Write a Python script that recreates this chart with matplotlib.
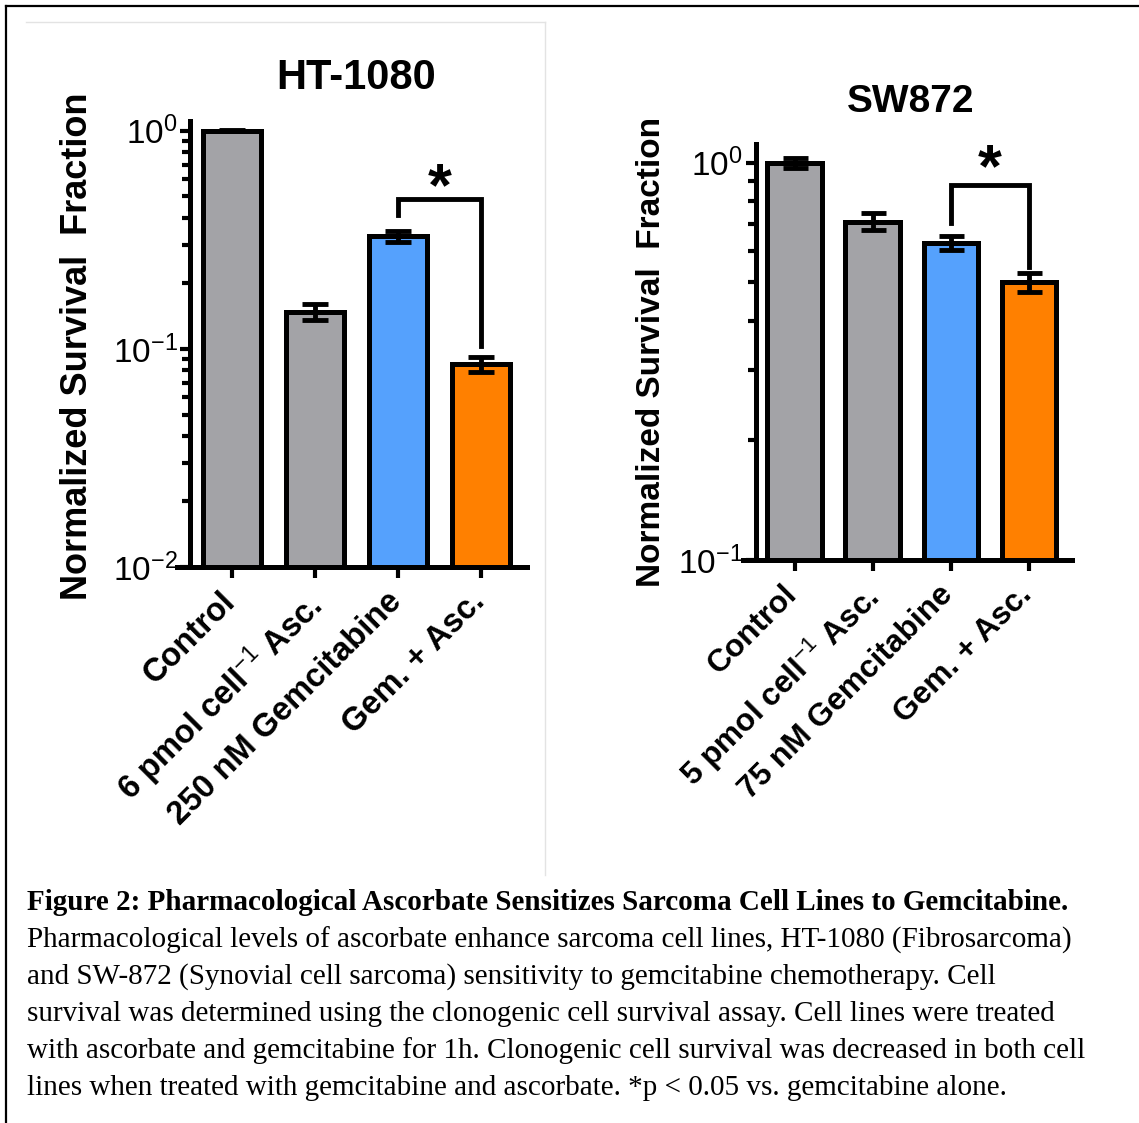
import matplotlib
matplotlib.use("Agg")
import matplotlib.pyplot as plt
from matplotlib.lines import Line2D
from matplotlib.ticker import NullFormatter
from matplotlib.transforms import ScaledTranslation

plt.rcParams['font.family'] = ['Liberation Sans', 'DejaVu Sans']
plt.rcParams['mathtext.fontset'] = 'custom'
plt.rcParams['mathtext.rm'] = 'Liberation Sans'
plt.rcParams['mathtext.it'] = 'Liberation Sans:italic'
plt.rcParams['mathtext.bf'] = 'Liberation Sans:bold'

# ---- data ----
ht_labels = ["Control", "6 pmol cell$^{-1}$ Asc.", "250 nM Gemcitabine", "Gem. + Asc."]
ht_values = [1.0, 0.148, 0.328, 0.085]
ht_errors = [0.008, 0.013, 0.019, 0.007]
ht_bracket = (0.41, 0.486, 0.103)   # left leg start, top, right leg end
ht_star_y = 0.535

sw_labels = ["Control", "5 pmol cell$^{-1}$ Asc.", "75 nM Gemcitabine", "Gem. + Asc."]
sw_values = [1.0, 0.71, 0.628, 0.50]
sw_errors = [0.028, 0.035, 0.024, 0.028]
sw_bracket = (0.703, 0.879, 0.547)
sw_star_y = 0.955

bar_colors = ["#a3a3a7", "#a3a3a7", "#55a1fd", "#ff8000"]

caption_title = "Figure 2: Pharmacological Ascorbate Sensitizes Sarcoma Cell Lines to Gemcitabine."
caption_lines = [
    "Pharmacological levels of ascorbate enhance sarcoma cell lines, HT-1080 (Fibrosarcoma)",
    "and SW-872 (Synovial cell sarcoma) sensitivity to gemcitabine chemotherapy. Cell",
    "survival was determined using the clonogenic cell survival assay. Cell lines were treated",
    "with ascorbate and gemcitabine for 1h. Clonogenic cell survival was decreased in both cell",
    "lines when treated with gemcitabine and ascorbate. *p < 0.05 vs. gemcitabine alone.",
]

W, H = 1139, 1123
fig = plt.figure(figsize=(W / 100, H / 100), dpi=100)


def px(x0, y_top, x1, y_bot):
    # pixel box -> figure fraction rect
    return [x0 / W, 1 - y_bot / H, (x1 - x0) / W, (y_bot - y_top) / H]


def panel(rect, labels, values, errors, ylim, bracket, star_y, xlab_size, capsize):
    ax = fig.add_axes(rect)
    x = list(range(len(values)))
    ax.bar(x, values, width=0.7, color=bar_colors, edgecolor='black', linewidth=3.6, zorder=2)
    ax.errorbar(x, values, yerr=errors, fmt='none', ecolor='black', elinewidth=3.5,
                capsize=capsize, capthick=3.5, zorder=3)
    ax.set_yscale('log')
    ax.set_ylim(*ylim)
    ax.set_xlim(-0.66, 3.55)
    ax.yaxis.set_minor_formatter(NullFormatter())
    for s in ('top', 'right'):
        ax.spines[s].set_visible(False)
    ax.spines['left'].set_position(('data', -0.5))
    ax.spines['left'].set_linewidth(3.6)
    ax.spines['bottom'].set_linewidth(3.6)
    ax.tick_params(axis='y', which='major', length=7, width=3, labelsize=24, pad=2)
    ax.tick_params(axis='y', which='minor', length=6, width=3)
    ax.tick_params(axis='x', length=8, width=3, pad=4)
    ax.set_xticks(x)
    ax.set_xticklabels(labels, rotation=45, ha='right', rotation_mode='anchor',
                       fontsize=xlab_size, fontweight='bold')
    shift = ScaledTranslation(-9 / 72, -2 / 72, fig.dpi_scale_trans)
    for t in ax.get_xticklabels():
        t.set_transform(t.get_transform() + shift)
    # significance bracket between bars 2 and 3
    y0, ytop, y1 = bracket
    ax.add_line(Line2D([2, 2, 3, 3], [y0, ytop, ytop, y1], color='black', lw=3.5,
                       solid_joinstyle='miter', zorder=4))
    ax.text(2.5, star_y, "*", ha='center', va='center', fontsize=44, fontweight='bold')
    return ax


ax1 = panel(px(177, 121, 527, 567), ht_labels, ht_values, ht_errors, (0.01, 1.108),
            ht_bracket, ht_star_y, 23.5, 9.5)
ax2 = panel(px(743, 144, 1072, 560), sw_labels, sw_values, sw_errors, (0.1, 1.114),
            sw_bracket, sw_star_y, 22.8, 9)

fig.text(356 / W, 1 - 78 / H, "HT-1080", ha='center', va='center', fontsize=30, fontweight='bold')
fig.text(911 / W, 1 - 102 / H, "SW872", ha='center', va='center', fontsize=28, fontweight='bold')
fig.text(78 / W, 1 - 346 / H, "Normalized Survival  Fraction", rotation=90, ha='center',
         va='center', fontsize=26, fontweight='bold')
fig.text(652 / W, 1 - 352 / H, "Normalized Survival  Fraction", rotation=90, ha='center',
         va='center', fontsize=24, fontweight='bold')

# caption
serif = ['Liberation Serif', 'DejaVu Serif']
fig.text(27 / W, 1 - 903 / H, caption_title, ha='left', va='center', fontsize=21,
         fontweight='bold', family=serif)
for i, line in enumerate(caption_lines):
    fig.text(27 / W, 1 - (940 + 37 * i) / H, line, ha='left', va='center', fontsize=21,
             family=serif)

# frame lines of the original page
fig.add_artist(Line2D([6 / W, 1], [1 - 6 / H, 1 - 6 / H], color='black', lw=1.6))
fig.add_artist(Line2D([6 / W, 6 / W], [0, 1 - 6 / H], color='black', lw=1.6))
fig.add_artist(Line2D([26 / W, 545 / W], [1 - 22 / H, 1 - 22 / H], color='#e3e3e3', lw=1))
fig.add_artist(Line2D([545 / W, 545 / W], [1 - 22 / H, 1 - 875 / H], color='#e3e3e3', lw=1))

fig.savefig("out.png", dpi=100, facecolor='white')
